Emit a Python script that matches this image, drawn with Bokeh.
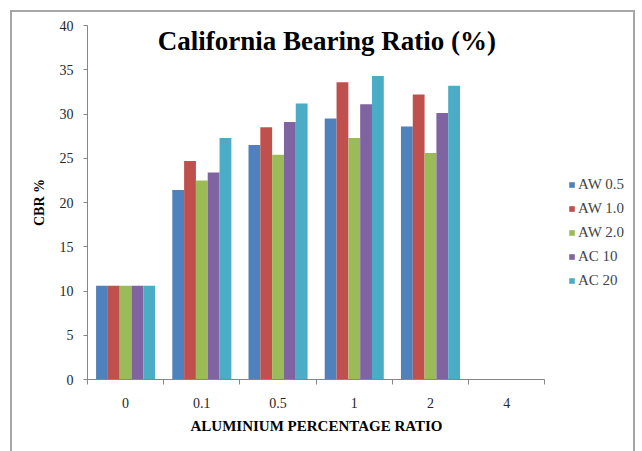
from bokeh.plotting import figure
from bokeh.models import Range1d, FixedTicker, SingleIntervalTicker, Legend, LegendItem, Label, Title
from bokeh.embed import file_html
from bokeh.resources import INLINE

categories = ["0", "0.1", "0.5", "1", "2", "4"]
series_names = ["AW 0.5", "AW 1.0", "AW 2.0", "AC 10", "AC 20"]
aw05 = [10.6, 21.4, 26.5, 29.5, 28.6]
aw10 = [10.6, 24.7, 28.5, 33.6, 32.2]
aw20 = [10.6, 22.5, 25.4, 27.3, 25.6]
ac10 = [10.6, 23.4, 29.1, 31.1, 30.1]
ac20 = [10.6, 27.3, 31.2, 34.3, 33.2]
series = [aw05, aw10, aw20, ac10, ac20]
colors = ["#4F81BD", "#C0504D", "#9BBB59", "#8064A2", "#4BACC6"]

SERIF = "Liberation Serif"
GRAY = "#868686"

n = len(categories)
# canvas starts at page x=12, y=12 (10px margin + 2px border)
# frame is widened to the right to host the legend; the axis line is bounded to the categories
p = figure(width=625, height=445, x_range=Range1d(-0.5, n - 0.5 + 1.19),
           y_range=Range1d(0, 40), output_backend="svg", toolbar_location=None,
           min_border_left=75, min_border_right=2, min_border_top=13, min_border_bottom=78)
p.styles = {"margin-left": "10px", "margin-top": "10px", "border": "2px solid #A6A6A6"}
p.outline_line_color = None
p.xgrid.visible = False
p.ygrid.visible = False
p.background_fill_color = "white"
p.border_fill_color = "white"

bw = 0.155
items = []
for j, (name, vals, col) in enumerate(zip(series_names, series, colors)):
    xs = [i + (j - 2) * bw for i in range(len(vals))]
    r = p.vbar(x=xs, top=vals, width=bw, bottom=0, fill_color=col, line_color=None)
    items.append(LegendItem(label=name, renderers=[r]))

# x axis
xa = p.xaxis[0]
xa.bounds = (-0.5, n - 0.5)
xa.ticker = FixedTicker(ticks=list(range(n)),
                        minor_ticks=[i - 0.5 for i in range(n + 1)])
xa.major_label_overrides = {i: c for i, c in enumerate(categories)}
xa.major_tick_line_color = None
xa.major_tick_out = 0
xa.major_tick_in = 0
xa.minor_tick_line_color = GRAY
xa.minor_tick_out = 5
xa.minor_tick_in = 0
xa.axis_line_color = GRAY
xa.major_label_standoff = 13
xa.major_label_text_font = SERIF
xa.major_label_text_font_size = "14px"
xa.major_label_text_color = "#262626"

# x axis title, centred under the category extent (not the widened frame)
xtitle = Title(text="ALUMINIUM PERCENTAGE RATIO", align="left", offset=103,
               text_font=SERIF, text_font_style="bold", text_font_size="15px",
               text_color="#000000", standoff=11)
p.add_layout(xtitle, "below")

# y axis
ya = p.yaxis[0]
ya.ticker = SingleIntervalTicker(interval=5, num_minor_ticks=0)
ya.minor_tick_line_color = None
ya.major_tick_line_color = GRAY
ya.major_tick_out = 4
ya.major_tick_in = 0
ya.axis_line_color = GRAY
ya.major_label_standoff = 10
ya.major_label_text_font = SERIF
ya.major_label_text_font_size = "14px"
ya.major_label_text_color = "#262626"
ya.axis_label = "CBR %"
ya.axis_label_text_font = SERIF
ya.axis_label_text_font_style = "bold"
ya.axis_label_text_font_size = "14px"
ya.axis_label_text_color = "#000000"
ya.axis_label_standoff = 10

legend = Legend(items=items, location=(481, 89), orientation="vertical",
                glyph_width=7, glyph_height=7, label_standoff=3,
                label_text_font=SERIF, label_text_font_size="15px",
                label_height=20, spacing=4, padding=0, margin=0,
                border_line_color=None, background_fill_alpha=0)
p.add_layout(legend, "center")

title = Label(x=2.64, y=38.2, text="California Bearing Ratio (%)", text_font=SERIF,
              text_font_style="bold", text_font_size="27px", text_align="center",
              text_baseline="middle", text_color="#000000")
p.add_layout(title)

open("out.html", "w").write(file_html(p, INLINE))
